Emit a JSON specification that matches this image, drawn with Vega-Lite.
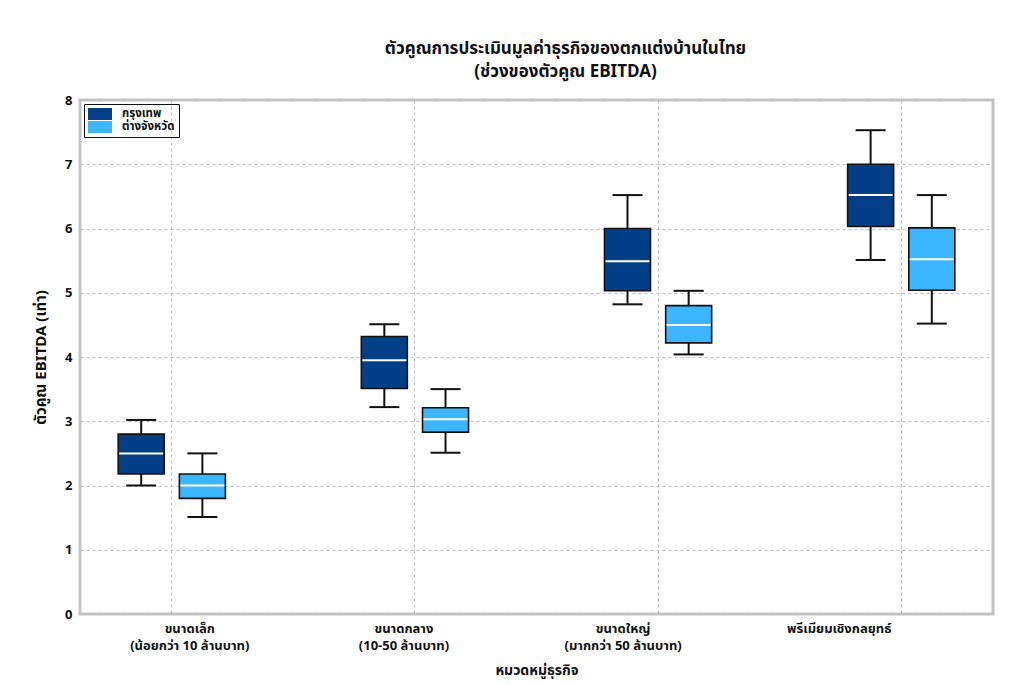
{
  "$schema": "https://vega.github.io/schema/vega-lite/v6.json",
  "autosize": "none",
  "width": 913,
  "height": 514,
  "padding": {"left": 80, "top": 100, "right": 31, "bottom": 71},
  "background": "white",
  "title": {
    "text": ["ตัวคูณการประเมินมูลค่าธุรกิจของตกแต่งบ้านในไทย", "(ช่วงของตัวคูณ EBITDA)"],
    "anchor": "middle",
    "dx": 29,
    "offset": 13,
    "fontSize": 17,
    "fontWeight": "bold",
    "font": "Noto Sans Thai, Noto Sans, sans-serif",
    "color": "#111",
    "lineHeight": 23
  },
  "config": {
    "font": "Noto Sans Thai, Noto Sans, sans-serif",
    "view": {"stroke": "#c4c4c4", "strokeWidth": 3},
    "axis": {"labelFontWeight": "bold", "titleFontWeight": "bold", "labelColor": "#111", "titleColor": "#111", "domain": false, "ticks": false, "gridColor": "#bdbdbd", "gridDash": [3, 3], "gridWidth": 1}
  },
  "data": {"values": [
    {"cat": "ขนาดเล็ก|(น้อยกว่า 10 ล้านบาท)", "region": "กรุงเทพ", "lower": 2.0, "q1": 2.18, "median": 2.5, "q3": 2.8, "upper": 3.02},
    {"cat": "ขนาดเล็ก|(น้อยกว่า 10 ล้านบาท)", "region": "ต่างจังหวัด", "lower": 1.51, "q1": 1.8, "median": 2.0, "q3": 2.18, "upper": 2.5},
    {"cat": "ขนาดกลาง|(10-50 ล้านบาท)", "region": "กรุงเทพ", "lower": 3.22, "q1": 3.51, "median": 3.95, "q3": 4.32, "upper": 4.51},
    {"cat": "ขนาดกลาง|(10-50 ล้านบาท)", "region": "ต่างจังหวัด", "lower": 2.51, "q1": 2.83, "median": 3.03, "q3": 3.21, "upper": 3.5},
    {"cat": "ขนาดใหญ่|(มากกว่า 50 ล้านบาท)", "region": "กรุงเทพ", "lower": 4.82, "q1": 5.03, "median": 5.49, "q3": 6.0, "upper": 6.52},
    {"cat": "ขนาดใหญ่|(มากกว่า 50 ล้านบาท)", "region": "ต่างจังหวัด", "lower": 4.04, "q1": 4.22, "median": 4.5, "q3": 4.8, "upper": 5.03},
    {"cat": "พรีเมียมเชิงกลยุทธ์", "region": "กรุงเทพ", "lower": 5.51, "q1": 6.03, "median": 6.52, "q3": 7.0, "upper": 7.53},
    {"cat": "พรีเมียมเชิงกลยุทธ์", "region": "ต่างจังหวัด", "lower": 4.52, "q1": 5.04, "median": 5.52, "q3": 6.01, "upper": 6.52}
  ]},
  "encoding": {
    "x": {
      "field": "cat", "type": "nominal",
      "sort": ["ขนาดเล็ก|(น้อยกว่า 10 ล้านบาท)", "ขนาดกลาง|(10-50 ล้านบาท)", "ขนาดใหญ่|(มากกว่า 50 ล้านบาท)", "พรีเมียมเชิงกลยุทธ์"],
      "scale": {"paddingInner": 0.245, "paddingOuter": 0},
      "axis": {
        "title": "หมวดหมู่ธุรกิจ",
        "labelAngle": 0,
        "labelExpr": "split(datum.label, '|')",
        "labelFontSize": 13,
        "labelLineHeight": 17,
        "labelPadding": 8,
        "titleFontSize": 14,
        "titlePadding": 11,
        "grid": true,
        "labelOffset": {
          "condition": [
            {"test": "datum.value == 'ขนาดเล็ก|(น้อยกว่า 10 ล้านบาท)'", "value": 18},
            {"test": "datum.value == 'ขนาดกลาง|(10-50 ล้านบาท)'", "value": -11},
            {"test": "datum.value == 'ขนาดใหญ่|(มากกว่า 50 ล้านบาท)'", "value": -35}
          ],
          "value": -62
        }
      }
    },
    "xOffset": {
      "field": "region", "type": "nominal",
      "sort": ["กรุงเทพ", "ต่างจังหวัด"],
      "scale": {"paddingInner": 0, "paddingOuter": 0.5}
    }
  },
  "layer": [
    {
      "mark": {"type": "rule", "color": "#111", "strokeWidth": 2},
      "encoding": {
        "y": {"field": "lower", "type": "quantitative", "scale": {"domain": [0, 8]},
          "axis": {"title": "ตัวคูณ EBITDA (เท่า)", "tickCount": 8, "labelFontSize": 13, "titleFontSize": 15, "labelPadding": 8, "titlePadding": 16, "grid": true}},
        "y2": {"field": "upper"}
      }
    },
    {
      "mark": {"type": "bar", "size": 46, "stroke": "#111", "strokeWidth": 1.6},
      "encoding": {
        "y": {"field": "q1", "type": "quantitative"},
        "y2": {"field": "q3"},
        "color": {"field": "region", "type": "nominal", "sort": ["กรุงเทพ", "ต่างจังหวัด"],
          "scale": {"domain": ["กรุงเทพ", "ต่างจังหวัด"], "range": ["#033f87", "#3bb6ff"]},
          "legend": {"title": null, "orient": "top-left", "offset": 4, "strokeColor": "#111", "padding": 4, "labelFontSize": 11.5, "labelFontWeight": "bold", "labelColor": "#111", "symbolType": "M-2,-1H2V1H-2Z", "symbolSize": 144, "symbolStrokeWidth": 0, "symbolOpacity": 1, "rowPadding": 1, "labelOffset": 16, "symbolOffset": 6,
            "encode": {"legend": {"update": {"strokeWidth": {"value": 2}}}}}}
      }
    },
    {
      "mark": {"type": "tick", "color": "white", "size": 44, "thickness": 2, "opacity": 1},
      "encoding": {"y": {"field": "median", "type": "quantitative"}}
    },
    {
      "mark": {"type": "tick", "color": "#111", "size": 30, "thickness": 2, "opacity": 1},
      "encoding": {"y": {"field": "lower", "type": "quantitative"}}
    },
    {
      "mark": {"type": "tick", "color": "#111", "size": 30, "thickness": 2, "opacity": 1},
      "encoding": {"y": {"field": "upper", "type": "quantitative"}}
    }
  ]
}
